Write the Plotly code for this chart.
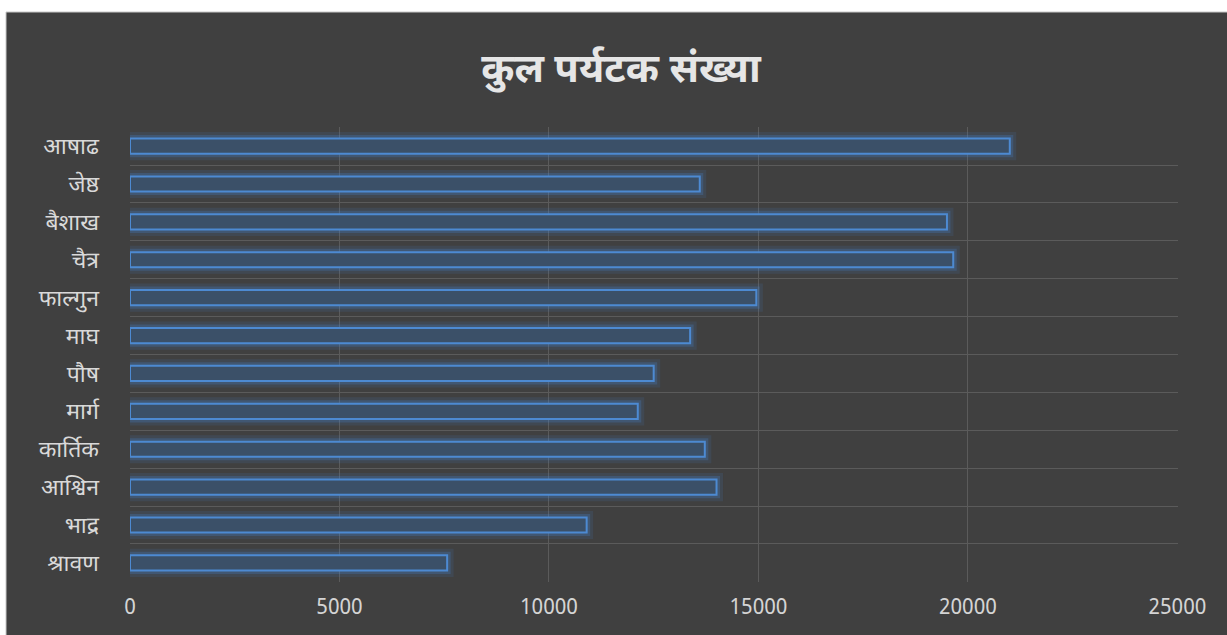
import plotly.graph_objects as go

months = ["श्रावण", "भाद्र", "आश्विन", "कार्तिक", "मार्ग", "पौष", "माघ",
          "फाल्गुन", "चैत्र", "बैशाख", "जेष्ठ", "आषाढ"]
tourists = [7570, 10900, 14000, 13720, 12120, 12500, 13370,
            14950, 19650, 19500, 13600, 21000]
x_ticks = [0, 5000, 10000, 15000, 20000, 25000]
x_tick_labels = ["0", "5000", "10000", "15000", "20000", "25000"]
title_text = "कुल पर्यटक संख्या"

pos = list(range(len(months)))
FONT = "Noto Sans Devanagari, Noto Sans, Open Sans, sans-serif"
BG = "#404040"
GRID = "#5b5b5b"

fig = go.Figure()
# glow layers
fig.add_trace(go.Bar(
    y=pos, x=tourists, orientation="h", width=0.40,
    marker=dict(color="rgba(0,0,0,0)",
                line=dict(color="rgba(70,130,210,0.13)", width=13)),
    hoverinfo="skip", showlegend=False))
fig.add_trace(go.Bar(
    y=pos, x=tourists, orientation="h", width=0.40,
    marker=dict(color="rgba(70,130,210,0.15)",
                line=dict(color="rgba(70,130,210,0.26)", width=7)),
    hoverinfo="skip", showlegend=False))
# main bars
fig.add_trace(go.Bar(
    y=pos, x=tourists, orientation="h", width=0.40,
    marker=dict(color="#3b5068", line=dict(color="#4d8ad2", width=2)),
    showlegend=False))

ml, mr, mt, mb = 130, 49, 127, 53
pw, ph = 1227 - ml - mr, 635 - mt - mb

fig.update_layout(
    width=1227, height=635,
    margin=dict(l=ml, r=mr, t=mt, b=mb),
    paper_bgcolor="white", plot_bgcolor=BG,
    barmode="overlay",
    title=dict(text="<b>" + title_text + "</b>", x=621 / 1227, xanchor="center",
               y=1 - 68 / 635, yanchor="middle",
               font=dict(family=FONT, size=40, color="#e6e6e6")),
    font=dict(family=FONT, color="#d9d9d9"),
    xaxis=dict(range=[0, 25015], tickvals=x_ticks, ticktext=x_tick_labels,
               showgrid=True, gridcolor=GRID, gridwidth=1, zeroline=False,
               tickfont=dict(size=21, color="#d4d4d4"), ticks="",
               ticklabelstandoff=10, showline=False, fixedrange=True),
    yaxis=dict(range=[-0.503, len(months) - 0.497], tickvals=pos, ticktext=months,
               showgrid=False, zeroline=False, ticks="",
               tickfont=dict(size=23, color="#d9d9d9"), ticklabelstandoff=30,
               minor=dict(tickvals=[i - 0.5 for i in range(len(months) + 1)],
                          showgrid=True, gridcolor=GRID, gridwidth=1,
                          ticks=""),
               fixedrange=True),
    shapes=[dict(type="rect", xref="paper", yref="paper", layer="below",
                 x0=(6 - ml) / pw, x1=(1230 - ml) / pw,
                 y0=(635 - mb - 640) / ph, y1=(635 - mb - 12) / ph,
                 fillcolor=BG, line=dict(color="#c8c8c8", width=1))],
)

fig.write_html("out.html", config={"displayModeBar": False},
               post_script="document.body.style.margin='0';document.body.style.overflow='hidden';")
